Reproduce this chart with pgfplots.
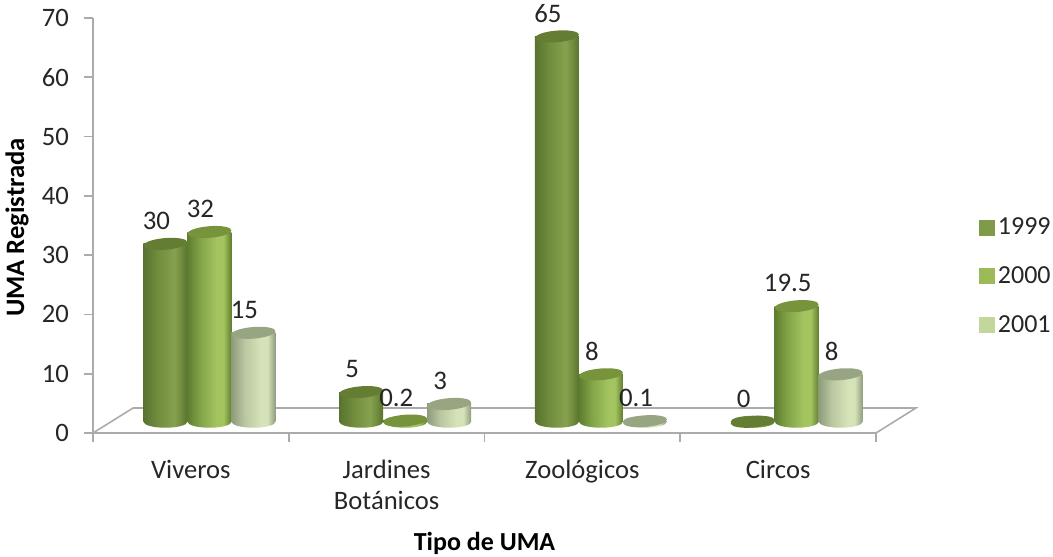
\documentclass[border=0pt]{standalone}
\usepackage{pgfplots}
\usepackage{pgfplotstable}
\usepackage{fontspec}
\setmainfont{Carlito}
\pgfplotsset{compat=1.18}
\definecolor{txt}{HTML}{262626}
\definecolor{axl}{HTML}{ABABAB}
\definecolor{topA}{HTML}{647D33}
\definecolor{topB}{HTML}{77933C}
\definecolor{topC}{HTML}{97A582}
\definecolor{legA}{HTML}{7F9A48}
\definecolor{legB}{HTML}{9BBB59}
\definecolor{legC}{HTML}{C3D69B}
\definecolor{a0}{HTML}{587330}\definecolor{a1}{HTML}{6F8B3C}\definecolor{a2}{HTML}{86A24F}
\definecolor{b0}{HTML}{5F7D2F}\definecolor{b1}{HTML}{83A548}\definecolor{b2}{HTML}{A3C45F}
\definecolor{c0}{HTML}{8F9C7C}\definecolor{c1}{HTML}{BAC7A0}\definecolor{c2}{HTML}{D6E2B8}
\pgfdeclarehorizontalshading{cylA}{100bp}{color(0bp)=(a0);color(25bp)=(a0);color(40bp)=(a1);color(60bp)=(a2);color(68bp)=(a1);color(75bp)=(a0);color(100bp)=(a0)}
\pgfdeclarehorizontalshading{cylB}{100bp}{color(0bp)=(b0);color(25bp)=(b0);color(40bp)=(b1);color(58bp)=(b2);color(66bp)=(b2);color(75bp)=(b0);color(100bp)=(b0)}
\pgfdeclarehorizontalshading{cylC}{100bp}{color(0bp)=(c0);color(25bp)=(c0);color(40bp)=(c1);color(58bp)=(c2);color(66bp)=(c2);color(75bp)=(c0);color(100bp)=(c0)}
\pgfdeclareplotmark{topell}{\pgfpathellipse{\pgfpointorigin}{\pgfqpoint{11pt}{0.9pt}}{\pgfqpoint{-0.25pt}{2.9pt}}\pgfusepathqfill}
\pgfdeclareplotmark{baseA}{\pgfpathellipse{\pgfpointorigin}{\pgfqpoint{11pt}{0pt}}{\pgfqpoint{0pt}{3pt}}\pgfshadepath{cylA}{0}\pgfusepath{discard}}
\pgfdeclareplotmark{baseB}{\pgfpathellipse{\pgfpointorigin}{\pgfqpoint{11pt}{0pt}}{\pgfqpoint{0pt}{3pt}}\pgfshadepath{cylB}{0}\pgfusepath{discard}}
\pgfdeclareplotmark{baseC}{\pgfpathellipse{\pgfpointorigin}{\pgfqpoint{11pt}{0pt}}{\pgfqpoint{0pt}{3pt}}\pgfshadepath{cylC}{0}\pgfusepath{discard}}
\pgfplotstableread{
x v
0 30
1 5
2 65
3 0
}\tA
\pgfplotstableread{
x v
0 32
1 0.2
2 8
3 19.5
}\tB
\pgfplotstableread{
x v
0 15
1 3
2 0.1
3 8
}\tC
\pgfplotstableread{
x y
-0.5 0
-0.295 4.22
3.704 4.22
3.5 0
}\floorline
\pgfplotsset{
  cyl/.style={ybar, bar width=22pt, bar shift=0pt, draw=none, shade, shading=#1},
}
\newcommand{\cylinder}[5]{%
  \addplot[only marks, mark=#2, xshift=#4, yshift=5.63pt] table[x=x, y expr=0] {#1};
  \pgfplotsinvokeforeach{0,1,2,3}{%
    \addplot[cyl=#3, xshift=#4, yshift=5.63pt, restrict x to domain=##1:##1] table[x=x, y=v] {#1};
  }
  \addplot[only marks, mark=topell, mark options={fill=#5, draw=none}, xshift=#4, yshift=5.63pt] table[x=x, y=v] {#1};
}
\newcommand{\labels}[2]{%
  \addplot[only marks, mark=none, xshift=#2, yshift=5.63pt, point meta=explicit symbolic,
    nodes near coords, nodes near coords style={anchor=center, xshift=-4.5pt, yshift=11.5pt, font=\fontsize{13.4}{15}\selectfont, text=txt}]
    table[x=x, y=v, meta=v] {#1};
}
\begin{document}
\begin{tikzpicture}
\useasboundingbox (-46.5pt,-61.5pt) rectangle (480pt,216.5pt);
\begin{axis}[
  scale only axis, width=391.5pt, height=207.5pt,
  xmin=-0.5, xmax=3.5, ymin=0, ymax=70,
  clip=false,
  axis x line=bottom, axis y line=left,
  axis line style={axl, line width=0.8pt, -},
  tick style={axl, line width=0.8pt},
  major tick length=4.5pt,
  xtick={-0.5,0.5,1.5,2.5,3.5},
  xticklabels={},
  extra x ticks={0,1,2,3},
  extra x tick labels={Viveros,{Jardines\\Botánicos},Zoológicos,Circos},
  extra x tick style={major tick length=0pt, tick style={draw=none}},
  ytick={0,10,...,70},
  tick align=outside,
  /pgf/number format/assume math mode=true,
  ticklabel style={font=\fontsize{13.3}{15.5}\selectfont, text=txt},
  xticklabel style={align=center, yshift=-10pt},
  yticklabel style={xshift=-4pt},
  xlabel={\textbf{Tipo de UMA}},
  ylabel={\textbf{UMA Registrada}},
  every axis x label/.style={at={(rel axis cs:0.5,-0.265)}, anchor=center, font=\fontsize{13}{15}\selectfont, text=black},
  every axis y label/.style={at={(rel axis cs:-0.097,0.495)}, anchor=center, rotate=90, font=\fontsize{13.3}{15}\selectfont, text=black},
  legend style={at={(rel axis cs:1.1317,0.3775)}, anchor=west, draw=none, fill=none,
    font=\fontsize{13}{15}\selectfont, text=txt, row sep=14.5pt,
    inner sep=0pt, outer sep=0pt, nodes={inner sep=0pt}},
  legend cell align=left,
]
\addlegendimage{legend image code/.code={\fill[legA] (0pt,-3.75pt) rectangle (7.5pt,3.75pt); \path (9pt,0pt);}}
\addlegendimage{legend image code/.code={\fill[legB] (0pt,-3.75pt) rectangle (7.5pt,3.75pt); \path (9pt,0pt);}}
\addlegendimage{legend image code/.code={\fill[legC] (0pt,-3.75pt) rectangle (7.5pt,3.75pt); \path (9pt,0pt);}}
\legend{1999,2000,2001}
\addplot[axl, line width=0.8pt, no marks] table[x=x, y=y] {\floorline};
\cylinder{\tA}{baseA}{cylA}{-12.7pt}{topA}
\cylinder{\tB}{baseB}{cylB}{9.3pt}{topB}
\cylinder{\tC}{baseC}{cylC}{31.3pt}{topC}
\labels{\tA}{-12.7pt}
\labels{\tB}{9.3pt}
\labels{\tC}{31.3pt}
\end{axis}
\end{tikzpicture}
\end{document}
